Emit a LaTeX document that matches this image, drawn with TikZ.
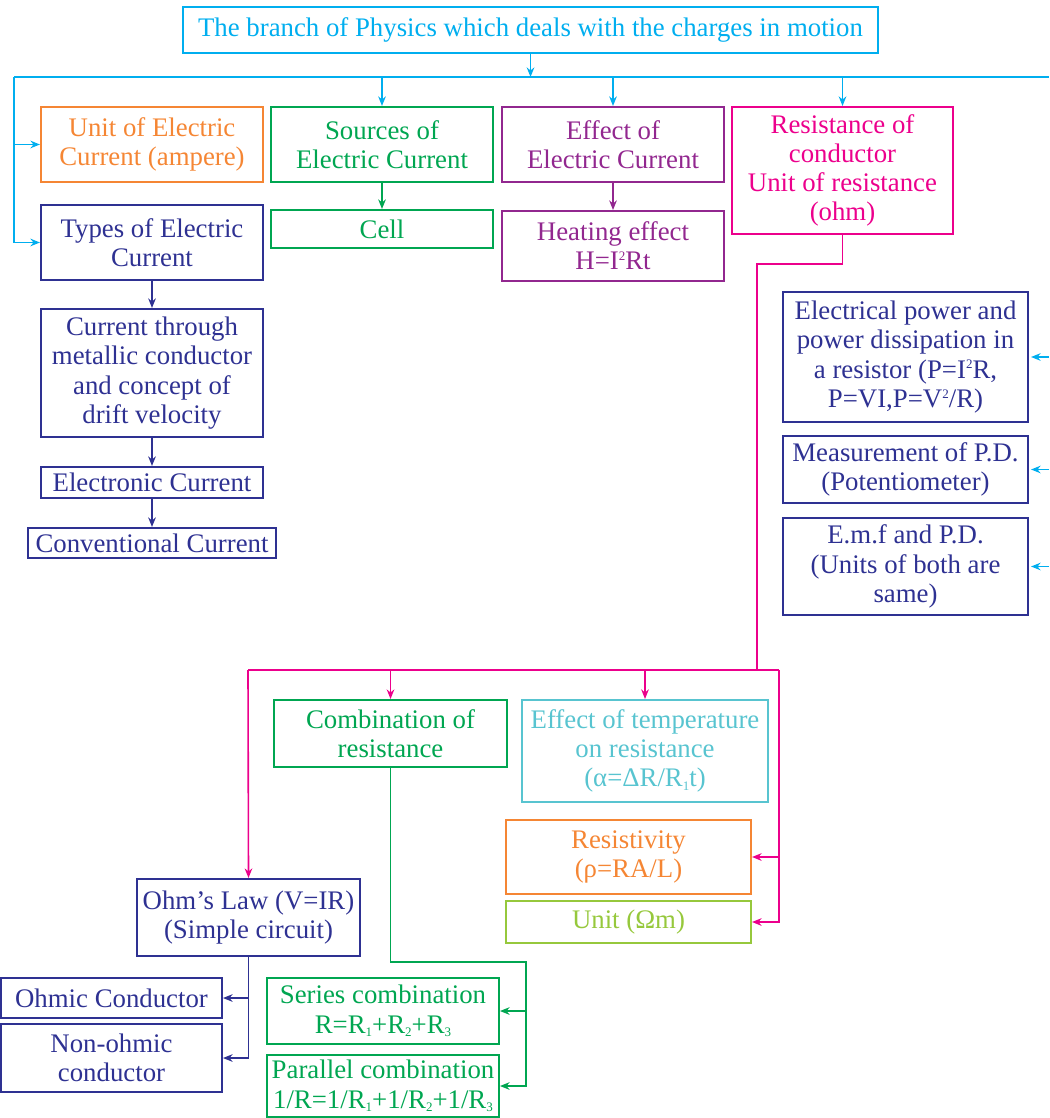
\documentclass[tikz,border=0pt]{standalone}
\usepackage{fontspec}
\setmainfont{Liberation Serif}
\usepackage{xcolor}
\usepackage{tikz}
\usetikzlibrary{arrows.meta,positioning,calc}

\definecolor{skyc}{RGB}{0,174,239}
\definecolor{orangec}{RGB}{245,134,52}
\definecolor{greenc}{RGB}{0,166,81}
\definecolor{purplec}{RGB}{146,39,143}
\definecolor{pinkc}{RGB}{236,0,140}
\definecolor{navyc}{RGB}{46,49,146}
\definecolor{tealc}{RGB}{88,196,208}
\definecolor{limec}{RGB}{150,200,60}

% small indices
\newcommand{\upidx}[1]{\raisebox{0.75ex}{\fontsize{6.5}{6.5}\selectfont #1}}
\newcommand{\lowidx}[1]{\raisebox{-0.3ex}{\fontsize{6.5}{6.5}\selectfont #1}}

\begin{document}
\begin{tikzpicture}[x=0.5pt,y=-0.5pt,>={Stealth[length=4.8pt,width=3.8pt]},
  box/.style={draw=#1,text=#1,line width=1pt,align=center,inner sep=0pt,
              font=\fontsize{13.4}{14.6}\selectfont},
  link/.style={draw=#1,line width=0.8pt}]
  \useasboundingbox (0,0) rectangle (1049,1118);

  % top level
  \node[box=skyc,minimum width=347.5pt,minimum height=23pt] (title) at (530.5,30)
    {The branch of Physics which deals with the charges in motion};
  \node[box=orangec,minimum width=111pt,minimum height=37.5pt] (unit) at (152,144.5)
    {Unit of Electric\\Current (ampere)};
  \node[box=greenc,minimum width=111pt,minimum height=37.5pt] (sources) at (382,144.5)
    {Sources of\\Electric Current};
  \node[box=purplec,minimum width=111pt,minimum height=37.5pt] (effect) at (613,144.5)
    {Effect of\\Electric Current};
  \node[box=pinkc,minimum width=110.5pt,minimum height=63.5pt] (resist) at (842.5,170.5)
    {Resistance of\\conductor\\Unit of resistance\\(ohm)};

  % second row
  \node[box=navyc,minimum width=111pt,minimum height=37.5pt] (types) at (152,242.5)
    {Types of Electric\\Current};
  \node[box=greenc,minimum width=111pt,minimum height=19pt] (cell) at (382,229) {Cell};
  \node[box=purplec,minimum width=111pt,minimum height=35pt] (heating) at (613,246)
    {Heating effect\\H=I\upidx{2}Rt};

  % left column
  \node[box=navyc,minimum width=111pt,minimum height=64pt] (metallic) at (152,373)
    {Current through\\metallic conductor\\and concept of\\drift velocity};
  \node[box=navyc,minimum width=111pt,minimum height=15.5pt] (electronic) at (152,482.5)
    {Electronic Current};
  \node[box=navyc,minimum width=124pt,minimum height=15pt] (conventional) at (152,543)
    {Conventional Current};

  % right column
  \node[box=navyc,minimum width=122.5pt,minimum height=65pt] (power) at (905.5,357)
    {Electrical power and\\power dissipation in\\a resistor (P=I\upidx{2}R,\\P=VI,P=V\upidx{2}/R)};
  \node[box=navyc,minimum width=122.5pt,minimum height=33.5pt] (measure) at (905.5,469.5)
    {Measurement of P.D.\\(Potentiometer)};
  \node[box=navyc,minimum width=122.5pt,minimum height=48.5pt] (emf) at (905.5,566.5)
    {E.m.f and P.D.\\(Units of both are\\same)};

  % resistance branch
  \node[box=greenc,minimum width=116.5pt,minimum height=33.5pt] (combo) at (390.5,733.5)
    {Combination of\\resistance};
  \node[box=tealc,minimum width=123pt,minimum height=51pt] (temp) at (645,751)
    {Effect of temperature\\on resistance\\(α=ΔR/R\lowidx{1}t)};
  \node[box=orangec,minimum width=122.5pt,minimum height=37pt] (resistivity) at (628.5,857)
    {Resistivity\\(ρ=RA/L)};
  \node[box=limec,minimum width=122.5pt,minimum height=21pt] (unitohm) at (628.5,922)
    {Unit (Ωm)};
  \node[box=navyc,minimum width=111.5pt,minimum height=38.5pt] (ohm) at (248.5,917.5)
    {Ohm’s Law (V=IR)\\(Simple circuit)};
  \node[box=navyc,minimum width=110.5pt,minimum height=20pt] (ohmic) at (111.5,998)
    {Ohmic Conductor};
  \node[box=navyc,minimum width=110.5pt,minimum height=34pt] (nonohmic) at (111.5,1058)
    {Non-ohmic\\conductor};
  \node[box=greenc,minimum width=116pt,minimum height=33pt] (series) at (383,1011)
    {Series combination\\R=R\lowidx{1}+R\lowidx{2}+R\lowidx{3}};
  \node[box=greenc,minimum width=116pt,minimum height=31pt] (parallel) at (383,1086)
    {Parallel combination\\1/R=1/R\lowidx{1}+1/R\lowidx{2}+1/R\lowidx{3}};

  % blue bus under the title
  \coordinate (busL) at (14,77);
  \coordinate (busR) at (1049,77);
  \draw[link=skyc] (busL) -- (busR);
  \draw[link=skyc,->] (title) -- (title |- busL);
  \draw[link=skyc,->] (sources.north |- busL) -- (sources.north);
  \draw[link=skyc,->] (effect.north |- busL) -- (effect.north);
  \draw[link=skyc,->] (resist.north |- busL) -- (resist.north);
  \draw[link=skyc,->] (busL) |- (types.west);
  \draw[link=skyc,->] (busL |- unit.west) -- (unit.west);
  \draw[link=skyc,->] (busR |- power.east) -- ([xshift=1pt]power.east);
  \draw[link=skyc,->] (busR |- measure.east) -- ([xshift=1pt]measure.east);
  \draw[link=skyc,->] (busR |- emf.east) -- ([xshift=1pt]emf.east);

  \draw[link=greenc,->] (sources) -- (cell);
  \draw[link=purplec,->] (effect) -- (heating);
  \draw[link=navyc,->] (types) -- (metallic);
  \draw[link=navyc,->] (metallic) -- (electronic);
  \draw[link=navyc,->] (electronic) -- (conventional);

  % pink bus
  \coordinate (pbend) at (757,264);
  \coordinate (pbusL) at (248,670);
  \coordinate (pbusR) at (779,670);
  \draw[link=pinkc] (resist.south) |- (pbend) -- (pbend |- pbusL);
  \draw[link=pinkc] (pbusL) -- (pbusR);
  \draw[link=pinkc,->] (pbusL) -- (ohm.north);
  \draw[link=pinkc,->] (combo.north |- pbusL) -- (combo.north);
  \draw[link=pinkc,->] (temp.north |- pbusL) -- (temp.north);
  \draw[link=pinkc,->] (pbusR) |- (unitohm.east);
  \draw[link=pinkc,->] (pbusR |- resistivity.east) -- (resistivity.east);

  % combinations
  \coordinate (gbend) at (526,962);
  \draw[link=greenc,->] (combo.south) |- (gbend) |- (parallel.east);
  \draw[link=greenc,->] (gbend |- series.east) -- (series.east);

  % ohm's law
  \draw[link=navyc,->] (ohm.south) |- (nonohmic.east);
  \draw[link=navyc,->] (ohm.south |- ohmic.east) -- (ohmic.east);
\end{tikzpicture}
\end{document}
